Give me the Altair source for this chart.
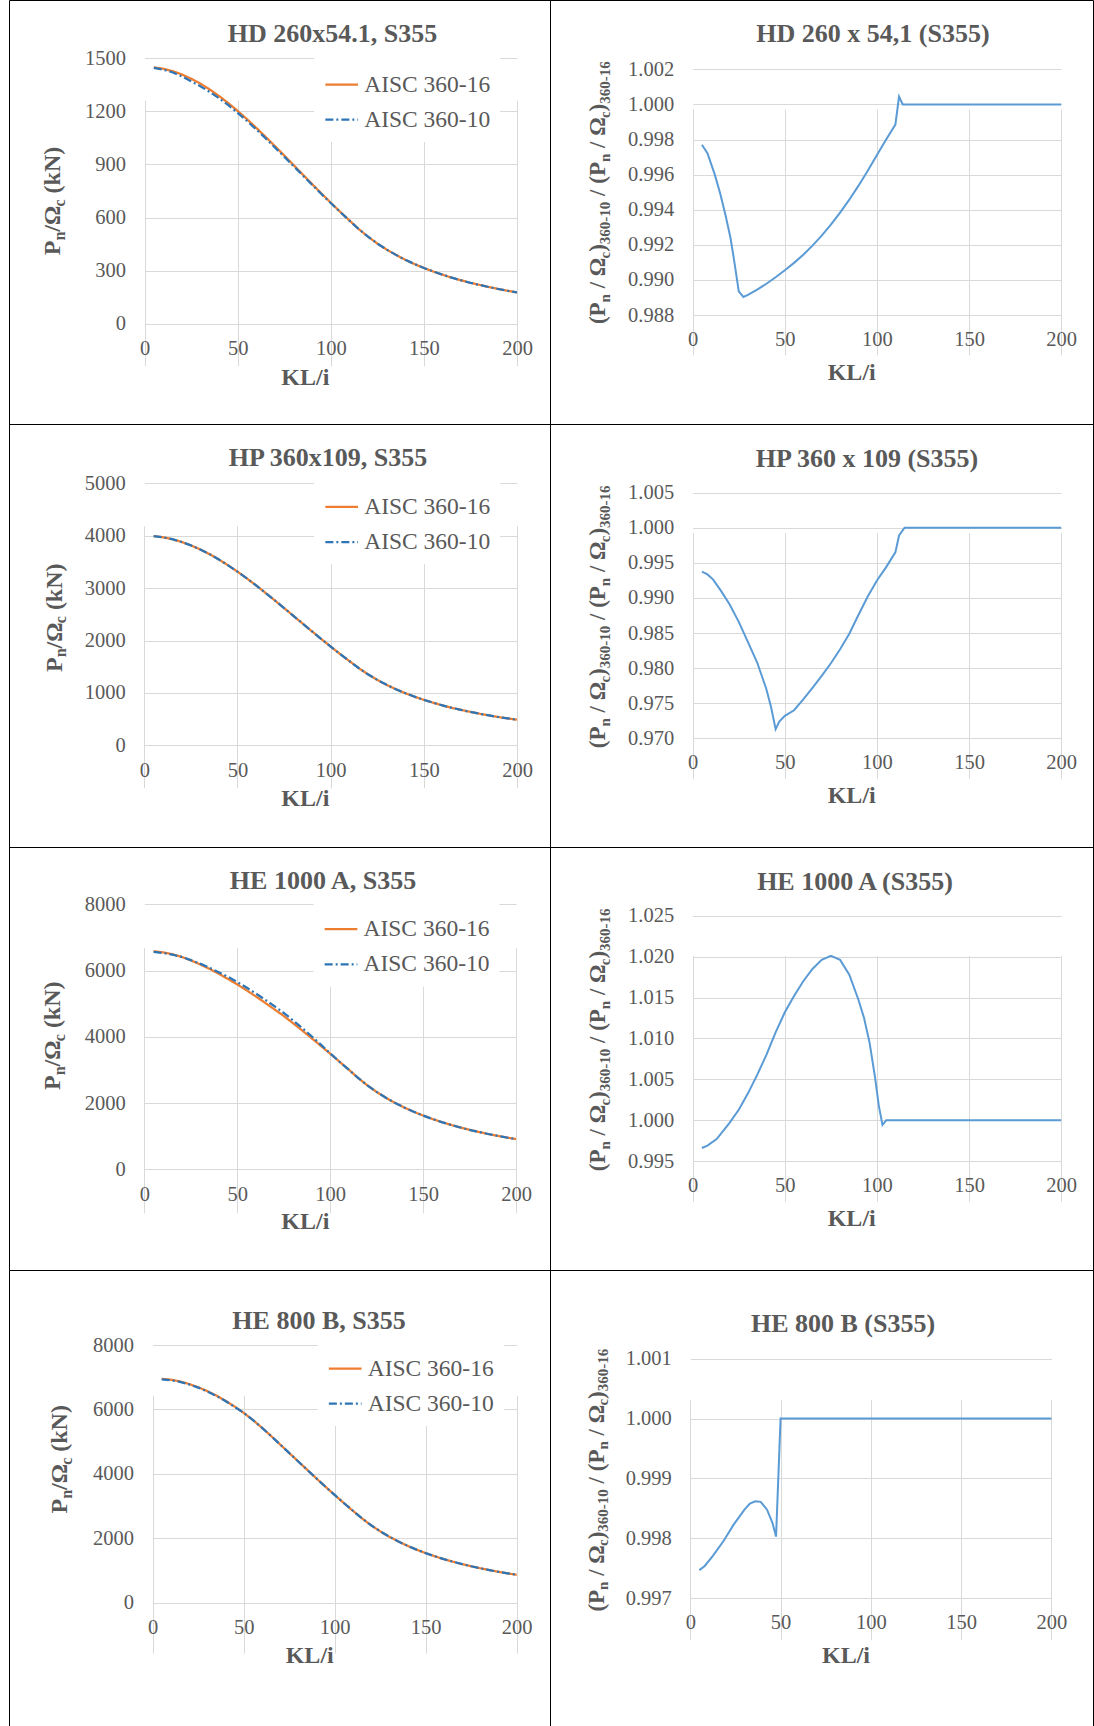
import altair as alt
import pandas as pd

FONT = "Liberation Serif"
INK = "#595959"
GRID = "#D9D9D9"
ORANGE = "#ED7D31"
DARK_BLUE = "#2E75B6"
LIGHT_BLUE = "#5B9BD5"
SERIES = ["AISC 360-16", "AISC 360-10"]

# ---------------- data ----------------
KL = [5, 10, 15, 20, 25, 30, 35, 40, 45, 50, 55, 60, 65, 70, 75, 80, 85, 90, 95, 100,
      105, 110, 115, 120, 125, 130, 135, 140, 145, 150, 155, 160, 165, 170, 175, 180, 185, 190, 195, 200]

HD_P16 = [1449, 1441, 1428, 1409, 1385, 1357, 1324, 1287, 1247, 1203, 1156, 1107, 1056, 1004, 951, 897, 843, 789, 736, 684,
          633, 584, 535, 492, 453, 419, 389, 361, 337, 315, 295, 277, 260, 245, 231, 219, 207, 196, 186, 177]
HD_P10 = [1446, 1436, 1421, 1398, 1370, 1342, 1310, 1274, 1235, 1192, 1146, 1098, 1048, 996, 944, 891, 838, 785, 733, 682,
          632, 583, 535, 492, 453, 419, 389, 361, 337, 315, 295, 277, 260, 245, 231, 219, 207, 196, 186, 177]

HP_P16 = [3992, 3970, 3933, 3881, 3816, 3738, 3648, 3546, 3434, 3314, 3185, 3051, 2910, 2766, 2619, 2471, 2322, 2174, 2028, 1884,
          1744, 1609, 1475, 1355, 1248, 1154, 1070, 995, 928, 867, 812, 762, 716, 675, 637, 602, 570, 540, 513, 488]
HP_P10 = [3992, 3970, 3933, 3881, 3816, 3738, 3648, 3546, 3434, 3314, 3185, 3051, 2910, 2766, 2619, 2471, 2322, 2174, 2028, 1884,
          1744, 1609, 1475, 1355, 1248, 1154, 1070, 995, 928, 867, 812, 762, 716, 675, 637, 602, 570, 540, 513, 488]

HEA_P16 = [6585, 6550, 6495, 6415, 6308, 6188, 6053, 5905, 5748, 5583, 5405, 5219, 5027, 4830, 4630, 4412, 4188, 3959, 3726, 3490,
           3250, 3010, 2760, 2535, 2336, 2160, 2003, 1862, 1736, 1622, 1519, 1426, 1341, 1263, 1192, 1127, 1066, 1011, 960, 913]
HEA_P10 = [6563, 6532, 6484, 6413, 6316, 6208, 6087, 5952, 5810, 5657, 5487, 5308, 5120, 4925, 4723, 4498, 4263, 4017, 3765, 3502,
           3250, 3010, 2760, 2535, 2336, 2160, 2003, 1862, 1736, 1622, 1519, 1426, 1341, 1263, 1192, 1127, 1066, 1011, 960, 913]

HEB_P16 = [6950, 6925, 6870, 6790, 6690, 6570, 6430, 6270, 6090, 5895, 5675, 5435, 5180, 4915, 4650, 4385, 4120, 3858, 3598, 3345,
           3096, 2855, 2618, 2404, 2216, 2049, 1900, 1766, 1647, 1539, 1441, 1352, 1272, 1198, 1131, 1069, 1012, 959, 911, 866]
HEB_P10 = [6932, 6908, 6855, 6777, 6678, 6560, 6421, 6261, 6080, 5895, 5675, 5435, 5180, 4915, 4650, 4385, 4120, 3858, 3598, 3345,
           3096, 2855, 2618, 2404, 2216, 2049, 1900, 1766, 1647, 1539, 1441, 1352, 1272, 1198, 1131, 1069, 1012, 959, 911, 866]

HD_RX = [5, 8, 12, 15, 18, 20.5, 22.5, 25, 27.5, 30, 35, 40, 45, 50, 55, 60, 65, 70, 75, 80, 85, 90, 95, 100, 105, 110, 112, 114, 200]
HD_RY = [0.99770, 0.99722, 0.99600, 0.99490, 0.99360, 0.99240, 0.99110, 0.98935, 0.98903, 0.98915, 0.98945, 0.98978, 0.99015,
         0.99055, 0.99097, 0.99143, 0.99195, 0.99252, 0.99315, 0.99383, 0.99457, 0.99537, 0.99622, 0.99712, 0.99800, 0.99885,
         1.00045, 1.00000, 1.00000]

HP_RX = [5, 8, 11, 15, 20, 25, 30, 35, 40, 42.5, 45, 47, 50, 55, 60, 65, 70, 75, 80, 85, 90, 95, 100, 105, 110, 112, 115, 200]
HP_RY = [0.99375, 0.99335, 0.99265, 0.99115, 0.98910, 0.98660, 0.98370, 0.98080, 0.97700, 0.97450, 0.97130, 0.97240, 0.97320,
         0.97400, 0.97555, 0.97720, 0.97890, 0.98070, 0.98270, 0.98490, 0.98760, 0.99020, 0.99250, 0.99440, 0.99650, 0.99890,
         1.00000, 1.00000]

HEA_RX = [5, 8, 13, 20, 25, 30, 35, 40, 45, 50, 55, 60, 65, 70, 75, 80, 85, 90, 93, 96, 99, 101, 103, 105, 200]
HEA_RY = [0.99662, 0.99691, 0.99772, 0.99970, 1.00130, 1.00330, 1.00555, 1.00800, 1.01075, 1.01320, 1.01520, 1.01700, 1.01850,
          1.01960, 1.02010, 1.01960, 1.01780, 1.01470, 1.01250, 1.00950, 1.00520, 1.00180, 0.99943, 1.00000, 1.00000]

HEB_RX = [5, 8, 12.5, 18.5, 24, 30, 33, 36, 39, 42.5, 45.5, 47.5, 50, 200]
HEB_RY = [0.99747, 0.99754, 0.99771, 0.99796, 0.99823, 0.99848, 0.99858, 0.99862, 0.99861, 0.99848, 0.99826, 0.99803,
          1.00000, 1.00000]

LEFT_TITLES = ["HD 260x54.1, S355", "HP 360x109, S355", "HE 1000 A, S355", "HE 800 B, S355"]
RIGHT_TITLES = ["HD 260 x 54,1 (S355)", "HP 360 x 109 (S355)", "HE 1000 A (S355)", "HE 800 B (S355)"]
X_TICKS = [0, 50, 100, 150, 200]

# ---------------- layout (cell-relative pixels) ----------------
COL_W = [541, 543]
ROW_H = [424, 423, 423, 458]
ROW_DY = [1, 0, 0, 0]

LEFT_LAYOUT = [
    dict(box=(135.5, 508, 57.3, 322.7), title=(323.5, 33.3), xt=(296.3, 376.7), yt=(42.9, 200), leg=(318.2, 86)),
    dict(box=(135.3, 508, 59.3, 321.3), title=(319, 34.3), xt=(296.3, 375.3), yt=(44.6, 193.7), leg=(318.2, 85.3)),
    dict(box=(135.3, 507, 57.3, 322.3), title=(314, 34.3), xt=(296.3, 375.3), yt=(42.9, 188.7), leg=(317.5, 84.7)),
    dict(box=(143.6, 507.7, 75, 332.7), title=(310, 51), xt=(300.7, 386), yt=(49.9, 189.3), leg=(321.7, 101)),
]
RIGHT_LAYOUT = [
    dict(box=(142.7, 511.2, 68.3, 314), title=(323, 33.3), xt=(301.7, 371.7), yt=(47.8, 191.7)),
    dict(box=(142.7, 511.2, 68.7, 314.3), title=(317, 35.3), xt=(301.7, 372), yt=(47.8, 192.8)),
    dict(box=(142.7, 511.2, 68.7, 314.3), title=(305, 35.3), xt=(301.7, 372), yt=(47.8, 192.8)),
    dict(box=(140.3, 501.4, 88.7, 328.3), title=(293, 54.3), xt=(296, 386), yt=(46.1, 210.2)),
]

W = {"P": 0.611, "n": 0.556, "c": 0.444, "/": 0.278, "Ω": 0.77, " ": 0.25, "(": 0.333, ")": 0.333,
     "k": 0.556, "N": 0.722, "-": 0.333}


def glyph_w(s, size):
    return sum(W.get(ch, 0.5) for ch in s) * size


def txt(t, x, y, size, weight="bold", angle=None, align="center", baseline="middle"):
    kw = dict(font=FONT, fontSize=size, fontWeight=weight, color=INK, align=align, baseline=baseline)
    if angle is not None:
        kw["angle"] = angle
    return alt.Chart(pd.DataFrame({"t": [t]})).mark_text(**kw).encode(
        text="t:N", x=alt.value(x), y=alt.value(y))


def y_title(pieces, cx, cy, main, sub):
    sizes = [sub if s else main for _, s in pieces]
    total = sum(glyph_w(t, f) for (t, _), f in zip(pieces, sizes))
    bx = cx + 0.33 * main
    y0 = cy + total / 2
    out, acc = [], 0.0
    for (t, s), f in zip(pieces, sizes):
        lead = len(t) - len(t.lstrip(" "))
        out.append(txt(t.strip(" "), bx + (0.2 * main if s else 0), y0 - acc - lead * W[" "] * f, f,
                       angle=270, align="left", baseline="alphabetic"))
        acc += glyph_w(t, f)
    return out


LEFT_YT = [("P", 0), ("n", 1), ("/Ω", 0), ("c", 1), (" (kN)", 0)]
RIGHT_YT = [("(P", 0), ("n", 1), (" / Ω", 0), ("c", 1), (")", 0), ("360-10", 1),
            (" / (P", 0), ("n", 1), (" / Ω", 0), ("c", 1), (")", 0), ("360-16", 1)]


def axis(**kw):
    return alt.Axis(title=None, grid=True, gridColor=GRID, gridWidth=1, domain=False, ticks=False,
                    labelFont=FONT, labelFontSize=20.5, labelColor=INK, labelFlush=False,
                    labelOverlap=False, **kw)


def left_cell(i, p16, p10, ymax, ystep):
    L = LEFT_LAYOUT[i]
    d = ROW_DY[i]
    h, w = ROW_H[i], COL_W[0]
    x0, x1, y0, y1 = L["box"]
    y0, y1 = y0 + d, y1 + d
    df = pd.DataFrame({"KL": KL + KL, "P": p16 + p10,
                       "series": [SERIES[0]] * len(KL) + [SERIES[1]] * len(KL)})
    xe = alt.X("KL:Q", scale=alt.Scale(domain=[0, 200], range=[x0, x1], nice=False, zero=False),
               axis=axis(values=X_TICKS, offset=y1 - h, labelPadding=15, format="d"))
    ye = alt.Y("P:Q", scale=alt.Scale(domain=[0, ymax], range=[y1, y0], nice=False),
               axis=axis(values=list(range(0, ymax + 1, ystep)), offset=-x0, labelPadding=19, format="d"))
    lx, ly = L["leg"]
    leg = alt.Legend(title=None, orient="none", legendX=lx - 13, legendY=ly + d - 30, direction="vertical",
                     fillColor="white", padding=10, symbolType="stroke", symbolSize=1069,
                     symbolStrokeWidth=2.25, labelFont=FONT, labelFontSize=23.5, labelColor=INK,
                     labelOffset=5, rowPadding=6.2)
    color = alt.Color("series:N", scale=alt.Scale(domain=SERIES, range=[ORANGE, DARK_BLUE]), legend=leg)
    dash = alt.StrokeDash("series:N", scale=alt.Scale(domain=SERIES, range=[[1, 0], [8, 3, 2, 3]]), legend=leg)
    lines = [alt.Chart(df).transform_filter(alt.datum.series == s).mark_line(strokeWidth=2.25)
             .encode(x=xe, y=ye, color=color, strokeDash=dash) for s in SERIES]
    tx, ty = L["title"]
    xx, xy = L["xt"]
    yx, yy = L["yt"]
    texts = [txt(LEFT_TITLES[i], tx, ty + d, 26), txt("KL/i", xx, xy + d, 24)]
    texts += y_title(LEFT_YT, yx, yy + d, 24, 16)
    return alt.layer(*lines, *texts).properties(width=w, height=h)


def right_cell(i, rx, ry, ydom, yvals):
    L = RIGHT_LAYOUT[i]
    d = ROW_DY[i]
    h, w = ROW_H[i], COL_W[1]
    x0, x1, y0, y1 = L["box"]
    y0, y1 = y0 + d, y1 + d
    df = pd.DataFrame({"KL": rx, "R": ry})
    xe = alt.X("KL:Q", scale=alt.Scale(domain=[0, 200], range=[x0, x1], nice=False, zero=False),
               axis=axis(values=X_TICKS, offset=y1 - h, labelPadding=14.5, format="d"))
    ye = alt.Y("R:Q", scale=alt.Scale(domain=ydom, range=[y1, y0], nice=False, zero=False),
               axis=axis(values=yvals, offset=-x0, labelPadding=19, format=".3f"))
    line = alt.Chart(df).mark_line(color=LIGHT_BLUE, strokeWidth=2).encode(x=xe, y=ye)
    tx, ty = L["title"]
    xx, xy = L["xt"]
    yx, yy = L["yt"]
    texts = [txt(RIGHT_TITLES[i], tx, ty + d, 26), txt("KL/i", xx, xy + d, 24)]
    texts += y_title(RIGHT_YT, yx, yy + d, 23, 15)
    return alt.layer(line, *texts).properties(width=w, height=h)


cells = [
    left_cell(0, HD_P16, HD_P10, 1500, 300),
    right_cell(0, HD_RX, HD_RY, [0.988, 1.002], [0.988, 0.990, 0.992, 0.994, 0.996, 0.998, 1.000, 1.002]),
    left_cell(1, HP_P16, HP_P10, 5000, 1000),
    right_cell(1, HP_RX, HP_RY, [0.970, 1.005], [0.970, 0.975, 0.980, 0.985, 0.990, 0.995, 1.000, 1.005]),
    left_cell(2, HEA_P16, HEA_P10, 8000, 2000),
    right_cell(2, HEA_RX, HEA_RY, [0.995, 1.025], [0.995, 1.000, 1.005, 1.010, 1.015, 1.020, 1.025]),
    left_cell(3, HEB_P16, HEB_P10, 8000, 2000),
    right_cell(3, HEB_RX, HEB_RY, [0.997, 1.001], [0.997, 0.998, 0.999, 1.000, 1.001]),
]

chart = alt.concat(
    *cells, columns=2, spacing=0, bounds="flush"
).resolve_scale(
    color="independent", strokeDash="independent"
).resolve_legend(
    color="independent", strokeDash="independent"
).properties(
    padding={"left": 8, "top": -1, "right": 0, "bottom": -1}
).configure_view(
    stroke="black", strokeWidth=1
).configure_concat(spacing=0)

chart.save("out.html", embed_options={"renderer": "svg", "actions": False})
